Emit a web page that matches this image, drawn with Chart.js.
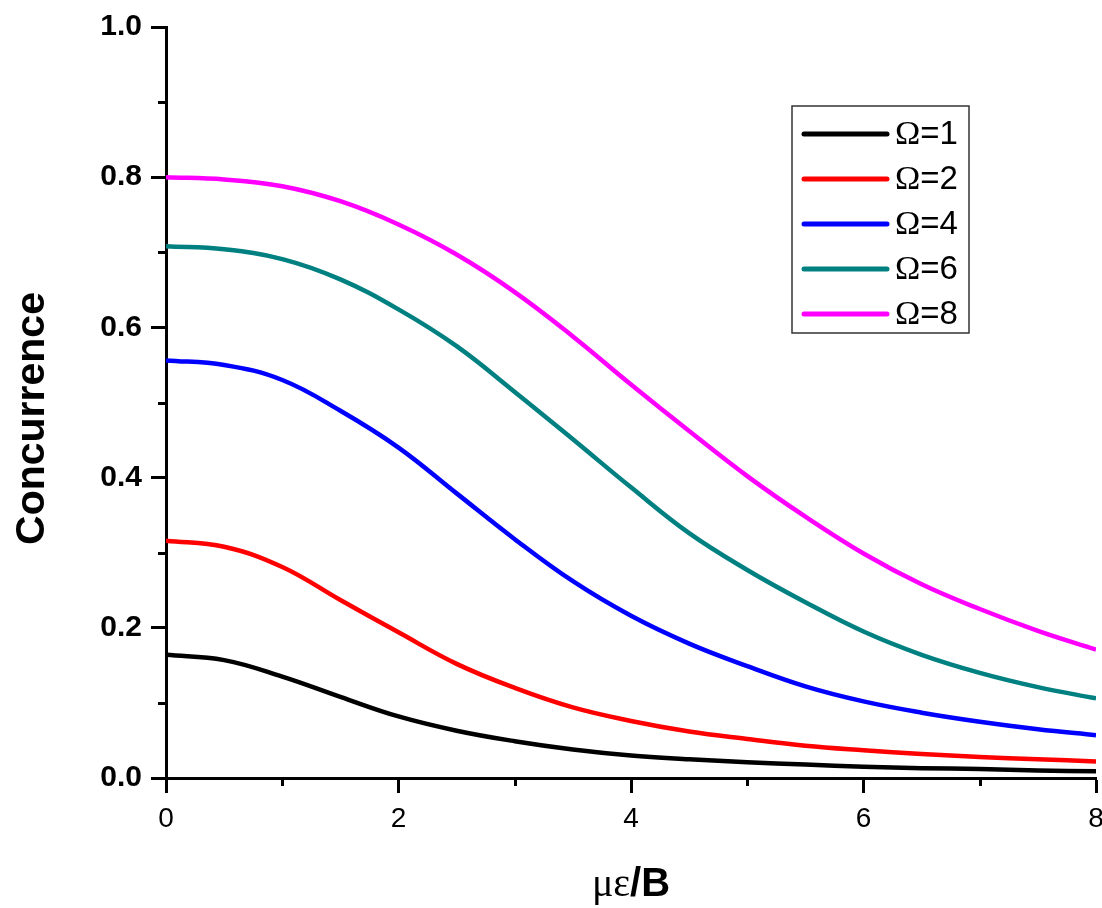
<!DOCTYPE html>
<html>
<head>
<meta charset="utf-8">
<title>Concurrence vs με/B</title>
<script src="https://cdn.jsdelivr.net/npm/chart.js@4.4.1/dist/chart.umd.min.js"></script>
<style>
  html, body { margin: 0; padding: 0; background: #fff; }
  #wrap { width: 1102px; height: 908px; }
</style>
</head>
<body>
<div id="wrap"><canvas id="chart" width="1102" height="908"></canvas></div>
<script>
// x positions (με/B) where the curves were read
const xValues = [0, 0.5, 1, 1.5, 2, 2.5, 3, 3.5, 4, 4.5, 5, 5.5, 6, 6.5, 7, 7.5, 8];

// concurrence values per Ω
const omega1 = [0.164, 0.157, 0.135, 0.108, 0.082, 0.063, 0.049, 0.038, 0.030, 0.025, 0.021, 0.018, 0.015, 0.013, 0.012, 0.010, 0.009];
const omega2 = [0.316, 0.308, 0.281, 0.237, 0.194, 0.152, 0.120, 0.094, 0.076, 0.062, 0.052, 0.043, 0.037, 0.032, 0.028, 0.025, 0.022];
const omega4 = [0.556, 0.550, 0.530, 0.489, 0.440, 0.379, 0.318, 0.262, 0.216, 0.179, 0.149, 0.122, 0.102, 0.087, 0.075, 0.065, 0.057];
const omega6 = [0.708, 0.704, 0.691, 0.664, 0.624, 0.575, 0.514, 0.451, 0.387, 0.326, 0.277, 0.234, 0.195, 0.164, 0.140, 0.121, 0.106];
const omega8 = [0.800, 0.797, 0.788, 0.768, 0.737, 0.697, 0.647, 0.588, 0.524, 0.462, 0.402, 0.348, 0.299, 0.258, 0.225, 0.196, 0.171];

const seriesLabels = ['Ω=1', 'Ω=2', 'Ω=4', 'Ω=6', 'Ω=8'];
const seriesColors = ['#000000', '#ff0000', '#0000ff', '#008080', '#ff00ff'];
const seriesValues = [omega1, omega2, omega4, omega6, omega8];

const xMinorTicks = [1, 3, 5, 7];
const yMinorTicks = [0.1, 0.3, 0.5, 0.7, 0.9];

const SANS = '"Liberation Sans", Arial, Helvetica, sans-serif';
const SERIF = '"Liberation Serif", "Times New Roman", serif';

const toPoints = vals => xValues.map((x, i) => ({ x: x, y: vals[i] }));

const datasets = seriesValues.map((vals, i) => ({
    label: seriesLabels[i],
    data: toPoints(vals),
    borderColor: seriesColors[i],
    backgroundColor: seriesColors[i],
    borderWidth: 4.5,
    pointRadius: 0,
    fill: false,
    tension: 0.4
}));

// minor ticks, axis titles and the boxed legend
const decorations = {
    id: 'decorations',
    afterDraw(chart) {
        const ctx = chart.ctx;
        const area = chart.chartArea;
        const xs = chart.scales.x;
        const ys = chart.scales.y;

        ctx.save();
        ctx.strokeStyle = '#000';
        ctx.lineWidth = 3;
        ctx.beginPath();
        for (const v of yMinorTicks) {
            const py = Math.round(ys.getPixelForValue(v)) + 0.5;
            ctx.moveTo(area.left - 8, py);
            ctx.lineTo(area.left, py);
        }
        for (const v of xMinorTicks) {
            const px = Math.round(xs.getPixelForValue(v)) + 0.5;
            ctx.moveTo(px, area.bottom);
            ctx.lineTo(px, area.bottom + 8);
        }
        ctx.stroke();

        // x title: μ ε in serif, /B in bold sans
        ctx.fillStyle = '#000';
        ctx.textBaseline = 'alphabetic';
        const greek = 'με';
        const rest = '/B';
        ctx.font = '40px ' + SERIF;
        const gw = ctx.measureText(greek).width;
        ctx.font = 'bold 40px ' + SANS;
        const rw = ctx.measureText(rest).width;
        const tx = (area.left + area.right) / 2 - (gw + rw) / 2;
        const ty = 896;
        ctx.font = '40px ' + SERIF;
        ctx.fillText(greek, tx, ty);
        ctx.font = 'bold 40px ' + SANS;
        ctx.fillText(rest, tx + gw, ty);

        // y title
        ctx.save();
        ctx.translate(33, (area.top + area.bottom) / 2 + 16);
        ctx.rotate(-Math.PI / 2);
        ctx.font = 'bold 41px ' + SANS;
        ctx.textAlign = 'center';
        ctx.textBaseline = 'middle';
        ctx.fillText('Concurrence', 0, 0);
        ctx.restore();

        // legend box
        const boxL = area.right - 304, boxT = area.top + 79, boxW = 177, boxH = 227;
        ctx.lineWidth = 1.5;
        ctx.strokeStyle = '#333';
        ctx.strokeRect(boxL, boxT, boxW, boxH);
        chart.data.datasets.forEach((ds, i) => {
            const ry = boxT + 28 + i * 45;
            ctx.beginPath();
            ctx.lineCap = 'round';
            ctx.lineWidth = 5;
            ctx.strokeStyle = ds.borderColor;
            ctx.moveTo(boxL + 12, ry);
            ctx.lineTo(boxL + 95, ry);
            ctx.stroke();
            ctx.fillStyle = '#000';
            ctx.textBaseline = 'middle';
            ctx.textAlign = 'left';
            const sym = ds.label.charAt(0);
            const tail = ds.label.slice(1);
            ctx.font = '34px ' + SERIF;
            ctx.fillText(sym, boxL + 103, ry + 1);
            const sw = ctx.measureText(sym).width;
            ctx.font = '33px ' + SANS;
            ctx.fillText(tail, boxL + 103 + sw, ry + 1);
        });
        ctx.restore();
    }
};

new Chart(document.getElementById('chart').getContext('2d'), {
    type: 'line',
    data: { datasets: datasets },
    options: {
        responsive: false,
        animation: false,
        layout: { padding: { top: 27, right: 6, left: 0, bottom: 0 } },
        plugins: {
            legend: { display: false },
            tooltip: { enabled: false }
        },
        scales: {
            x: {
                type: 'linear',
                min: 0,
                max: 8,
                border: { color: '#000', width: 3 },
                grid: { drawOnChartArea: false, tickLength: 15, tickWidth: 3, tickColor: '#000' },
                ticks: {
                    stepSize: 2,
                    color: '#000',
                    padding: 9,
                    font: { family: SANS, size: 28 },
                    maxRotation: 0
                },
                afterFit(scale) {
                    scale.height = 130;
                    // let the last label run off the edge like the original
                    scale.paddingLeft = 0;
                    scale.paddingRight = 0;
                }
            },
            y: {
                min: 0,
                max: 1,
                border: { color: '#000', width: 3 },
                grid: { drawOnChartArea: false, tickLength: 15, tickWidth: 3, tickColor: '#000' },
                ticks: {
                    stepSize: 0.2,
                    color: '#000',
                    padding: 9,
                    font: { family: SANS, size: 30, weight: 'bold' },
                    callback: v => v.toFixed(1)
                },
                afterFit(scale) { scale.width = 166; }
            }
        }
    },
    plugins: [decorations]
});
</script>
</body>
</html>
